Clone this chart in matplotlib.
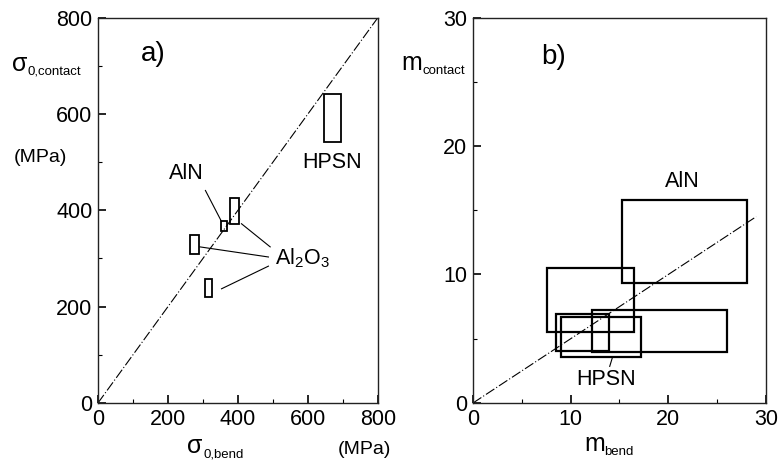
import numpy as np
import matplotlib.pyplot as plt
from matplotlib.patches import Rectangle

plt.rcParams['font.family'] = ['Liberation Sans', 'DejaVu Sans']
plt.rcParams['mathtext.fontset'] = 'custom'
plt.rcParams['mathtext.rm'] = 'Liberation Sans'
plt.rcParams['mathtext.it'] = 'Liberation Sans'

# panel a) strength ranges: x_lo, x_hi, y_lo, y_hi (MPa)
hpsn_a = [647, 693, 542, 641]
aln_a = [352, 368, 356, 378]
al2o3_a = [[377, 402, 372, 426],
           [263, 289, 310, 348],
           [307, 326, 220, 257]]

# panel b) Weibull modulus ranges: x_lo, x_hi, y_lo, y_hi
aln_b = [15.3, 28.1, 9.3, 15.8]
other_b = [[7.6, 16.5, 5.5, 10.5],
           [12.2, 26.0, 4.0, 7.2],
           [8.5, 13.9, 4.05, 6.9]]
hpsn_b = [9.0, 17.2, 3.6, 6.7]

line_a = [0, 800]
line_b_x = [0, 29]
line_b_y = [0, 14.5]

W, H = 780, 473
fig = plt.figure(figsize=(7.8, 4.73), dpi=100)
ax1 = fig.add_axes([0.1256, 0.148, 0.359, 0.815])
ax2 = fig.add_axes([0.6064, 0.148, 0.3756, 0.815])


def box(ax, r, lw):
    ax.add_patch(Rectangle((r[0], r[2]), r[1] - r[0], r[3] - r[2],
                           fill=False, ec='black', lw=lw))


def style(ax, lim, major, minor):
    ax.set_xlim(0, lim)
    ax.set_ylim(0, lim)
    ax.set_xticks(np.arange(0, lim + 1, major))
    ax.set_yticks(np.arange(0, lim + 1, major))
    ax.set_xticks(np.arange(0, lim + 1, minor), minor=True)
    ax.set_yticks(np.arange(0, lim + 1, minor), minor=True)
    ax.tick_params(which='both', direction='in', labelsize=15.5, pad=4)
    ax.tick_params(which='major', length=6, width=1.2)
    ax.tick_params(which='minor', length=3, width=0.8)
    for s in ax.spines.values():
        s.set_linewidth(1.0)
        s.set_color('#222222')


def sublabel(x, y, main, sub, dx):
    # main symbol plus a small lowered subscript, pixel positions
    fig.text(x / W, 1 - y / H, main, fontsize=18, ha='left', va='center')
    fig.text((x + dx) / W, 1 - (y + 8) / H, sub, fontsize=9.5,
             ha='left', va='center')


dd = (0, (9, 2, 1, 2))

# ---- a)
style(ax1, 800, 200, 100)
ax1.plot(line_a, line_a, color='black', lw=0.8, ls=dd)
box(ax1, hpsn_a, 1.3)
box(ax1, aln_a, 1.3)
for r in al2o3_a:
    box(ax1, r, 1.3)
ax1.text(158, 725, 'a)', fontsize=20, ha='center', va='center')
ax1.text(668, 499, 'HPSN', fontsize=15.5, ha='center', va='center')
ax1.text(253, 476, 'AlN', fontsize=15.5, ha='center', va='center')
ax1.text(505, 300, r'Al$_\mathregular{2}$O$_\mathregular{3}$', fontsize=15.5,
         ha='left', va='center')
ax1.plot([307, 352], [441, 378], color='black', lw=0.8)
ax1.plot([492, 410], [324, 372], color='black', lw=0.8)
ax1.plot([487, 291], [303, 324], color='black', lw=0.8)
ax1.plot([487, 353], [284, 237], color='black', lw=0.8)

sublabel(12, 64, '\u03c3', '0,contact', 16)
fig.text(14 / W, 1 - 157 / H, '(MPa)', fontsize=14, ha='left', va='center')
sublabel(187, 446, '\u03c3', '0,bend', 16)
fig.text(338 / W, 1 - 449 / H, '(MPa)', fontsize=14, ha='left', va='center')

# ---- b)
style(ax2, 30, 10, 5)
ax2.plot(line_b_x, line_b_y, color='black', lw=0.8, ls=dd)
box(ax2, aln_b, 1.6)
for r in other_b:
    box(ax2, r, 1.6)
box(ax2, hpsn_b, 1.6)
ax2.text(8.25, 26.9, 'b)', fontsize=20, ha='center', va='center')
ax2.text(21.4, 17.2, 'AlN', fontsize=15.5, ha='center', va='center')
ax2.text(13.6, 1.8, 'HPSN', fontsize=15.5, ha='center', va='center')
ax2.plot([14.3, 14.0], [3.6, 2.85], color='black', lw=0.8)

sublabel(401, 63, 'm', 'contact', 22)
sublabel(584, 444, 'm', 'bend', 20)

fig.savefig('out.png', dpi=100)
